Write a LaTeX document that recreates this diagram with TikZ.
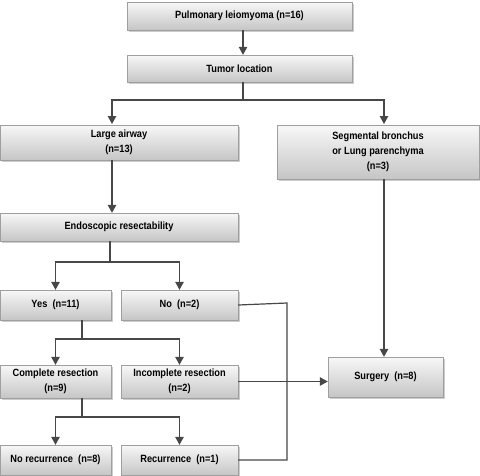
\documentclass[tikz,border=0pt]{standalone}
\usepackage{fontspec}
\setmainfont{Liberation Sans}[FakeStretch=0.88]
\usetikzlibrary{arrows.meta, shadows}
\tikzset{
  box/.style={draw=gray!75, top color=gray!6, bottom color=gray!45,
    font=\bfseries\fontsize{10.5}{15}\selectfont, align=center, inner sep=0pt,
    drop shadow={shadow xshift=1.5pt, shadow yshift=-1.5pt, opacity=0.4}},
  link/.style={draw=black!72, line width=1.2pt},
  arr/.style={link, -{Triangle[width=8.5pt,length=8pt]}},
}

\begin{document}
\begin{tikzpicture}[x=1pt, y=-1pt]
		\useasboundingbox (0,0) rectangle (480,475);

		% boxes
		\node[box, minimum width=225pt, minimum height=28pt] (total) at (239.5,16) {Pulmonary leiomyoma (n=16)};
		\node[box, minimum width=225pt, minimum height=27pt] (loc) at (239.5,68.5) {Tumor location};
		\node[box, minimum width=238pt, minimum height=35pt] (airway) at (119,142.5) {Large airway\\(n=13)};
		\node[box, minimum width=202pt, minimum height=54pt] (segm) at (378,152) {Segmental bronchus\\or Lung parenchyma\\(n=3)};
		\node[box, minimum width=238pt, minimum height=28pt] (endo) at (119,227) {Endoscopic resectability};
		\node[box, minimum width=111pt, minimum height=30pt] (yes) at (55.5,305) {Yes~ (n=11)};
		\node[box, minimum width=117pt, minimum height=30pt] (no) at (179.5,305) {No~ (n=2)};
		\node[box, minimum width=111pt, minimum height=33pt] (compl) at (55.5,381.5) {Complete resection\\(n=9)};
		\node[box, minimum width=117pt, minimum height=33pt] (incompl) at (179.5,381.5) {Incomplete resection\\(n=2)};
		\node[box, minimum width=115pt, minimum height=40pt] (surg) at (385.5,377) {Surgery~ (n=8)};
		\node[box, minimum width=111pt, minimum height=30pt] (norec) at (55.5,460) {No recurrence~ (n=8)};
		\node[box, minimum width=117pt, minimum height=30pt] (rec) at (179.5,460) {Recurrence~ (n=1)};

		% junctions
		\coordinate (j1) at (243,100);
		\coordinate (j2) at (110,262);
		\coordinate (j3) at (82,339);
		\coordinate (j4) at (82,417);
		\coordinate (k1) at (287,303);

		% arrows
		\draw[arr] (total.south -| j1) -- (loc.north -| j1);
		\draw[link] (loc.south -| j1) -- (j1);
		\draw[arr] (j1) -| (112,124);
		\draw[arr] (j1) -| (384,124);
		\draw[arr] (airway.south -| 112,0) -- (endo.north -| 112,0);
		\draw[link] (endo.south -| j2) -- (j2);
		\draw[arr] (j2) -| (yes.north);
		\draw[arr] (j2) -| (no.north);
		\draw[link] (yes.south -| j3) -- (j3);
		\draw[arr] (j3) -| (compl.north);
		\draw[arr] (j3) -| (incompl.north);
		\draw[link] (compl.south -| j4) -- (j4);
		\draw[arr] (j4) -| (norec.north);
		\draw[arr] (j4) -| (rec.north);
		\draw[arr] (segm.south -| 384,0) -- (surg.north -| 384,0);
		\draw[arr] (incompl.east) -- (incompl.east -| surg.west);
		\draw[link] (no.east) -- (k1) |- (rec.east);

	\end{tikzpicture}
\end{document}
